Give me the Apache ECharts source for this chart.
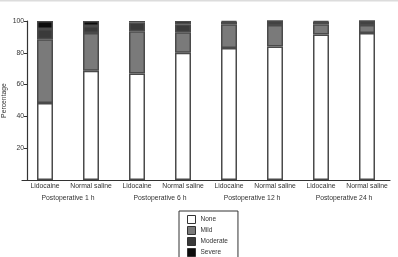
<!DOCTYPE html>
<html>
<head>
<meta charset="utf-8">
<script src="https://cdn.jsdelivr.net/npm/echarts@6/dist/echarts.min.js"></script>
<style>
  html, body { margin: 0; padding: 0; background: #fff; }
  #chart { width: 398px; height: 257px; }
</style>
</head>
<body>
<div id="chart"></div>
<script>
// bars, left to right
var treatments = ['Lidocaine', 'Normal saline', 'Lidocaine', 'Normal saline',
                  'Lidocaine', 'Normal saline', 'Lidocaine', 'Normal saline'];
var timepoints = ['Postoperative 1 h', 'Postoperative 6 h', 'Postoperative 12 h', 'Postoperative 24 h'];
var yTicks = [0, 20, 40, 60, 80, 100];

// percentages of patients per severity
var noneVals     = [48.5, 68.7, 67, 80, 83, 84, 91.5, 92.5];
var mildVals     = [40, 23.8, 26.5, 13, 15, 13.5, 6.5, 5];
var moderateVals = [6.5, 4.4, 5.5, 5, 1.5, 2.5, 1.5, 2.5];
var severeVals   = [5, 3.1, 1, 2, 0.5, 0, 0.5, 0];

var levels = [
    { name: 'None', data: noneVals, color: '#ffffff' },
    { name: 'Mild', data: mildVals, color: '#7a7a7a' },
    { name: 'Moderate', data: moderateVals, color: '#3a3a3a' },
    { name: 'Severe', data: severeVals, color: '#0c0c0c' }
];

var font = 'Liberation Sans';
var chart = echarts.init(document.getElementById('chart'), null, { renderer: 'canvas' });

var series = levels.map(function (lv) {
    return {
        name: lv.name,
        type: 'bar',
        stack: 'total',
        barWidth: 16,
        xAxisIndex: 0,
        data: lv.data,
        itemStyle: { color: lv.color, borderColor: '#4a4a4a', borderWidth: 1.5 }
    };
});

var option = {
    animation: false,
    backgroundColor: '#fff',
    grid: { left: 22, right: 8, top: 21, bottom: 77, outerBoundsMode: 'none', containLabel: false },
    legend: {
        orient: 'vertical',
        left: 179,
        top: 211,
        height: 80,
        padding: [4, 10, 4, 8],
        borderColor: '#333',
        borderWidth: 1,
        itemWidth: 8,
        itemHeight: 8,
        itemGap: 2,
        icon: 'rect',
        itemStyle: { borderColor: '#333', borderWidth: 1 },
        textStyle: { fontFamily: font, fontSize: 6.5, color: '#333' },
        data: levels.map(function (lv) { return lv.name; })
    },
    xAxis: [{
        type: 'category',
        data: treatments,
        axisLine: { lineStyle: { color: '#333', width: 1.2 } },
        axisTick: { alignWithLabel: true, length: 2, lineStyle: { color: '#333' } },
        axisLabel: { interval: 0, fontFamily: font, fontSize: 6.8, color: '#333', margin: 3 }
    }, {
        type: 'category',
        data: timepoints,
        position: 'bottom',
        offset: 12,
        axisLine: { show: false },
        axisTick: { show: false },
        axisLabel: { interval: 0, fontFamily: font, fontSize: 6.8, color: '#333', margin: 3 }
    }],
    yAxis: {
        type: 'value',
        min: yTicks[0],
        max: yTicks[yTicks.length - 1],
        interval: 20,
        offset: -5,
        name: 'Percentage',
        nameLocation: 'middle',
        nameGap: 19,
        nameMoveOverlap: false,
        nameTextStyle: { fontFamily: font, fontSize: 6.8, color: '#333' },
        axisLine: { show: true, lineStyle: { color: '#333', width: 1.2 } },
        axisTick: { show: true, length: 3, lineStyle: { color: '#333' } },
        splitLine: { show: false },
        axisLabel: {
            fontFamily: font, fontSize: 6.8, color: '#333', margin: 3,
            formatter: function (v) { return v === 0 ? '' : v; }
        }
    },
    graphic: [{
        type: 'rect',
        shape: { x: 0, y: 0, width: 398, height: 1.5 },
        style: { fill: '#dcdcdc' }
    }],
    series: series
};

chart.setOption(option);
</script>
</body>
</html>
